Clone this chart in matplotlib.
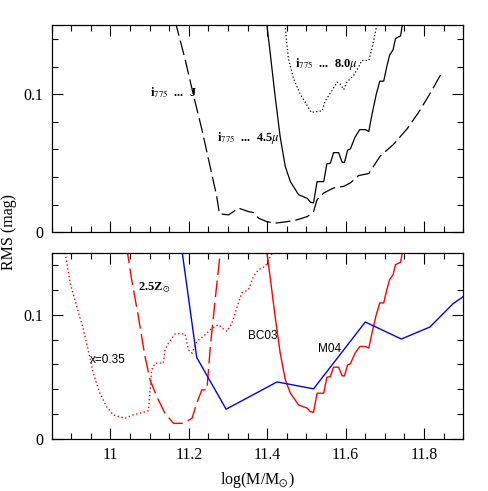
import matplotlib
matplotlib.use("Agg")
import matplotlib.pyplot as plt
from matplotlib.ticker import MultipleLocator, FuncFormatter

plt.rcParams['font.family'] = ['Liberation Serif', 'DejaVu Serif']
plt.rcParams['mathtext.fontset'] = 'stix'

# i775 - J (dashed, top panel)
j_logm = [11.165, 11.190, 11.212, 11.233, 11.254, 11.271, 11.278, 11.301, 11.327, 11.352,
          11.365, 11.378, 11.399, 11.420, 11.450, 11.476, 11.502, 11.514, 11.518, 11.527,
          11.544, 11.569, 11.595, 11.612, 11.633, 11.659, 11.688, 11.722, 11.756, 11.786,
          11.812, 11.846]
j_rms = [0.153, 0.1258, 0.099, 0.0747, 0.0479, 0.026, 0.0134, 0.0126, 0.0175, 0.0150,
         0.0143, 0.0102, 0.0077, 0.0066, 0.0077, 0.0090, 0.0114, 0.0139, 0.015, 0.0236,
         0.0285, 0.0321, 0.0333, 0.0358, 0.0411, 0.0426, 0.0552, 0.0637, 0.0747, 0.0869,
         0.099, 0.116]

# i775 - 4.5mu (solid, top) == BC03 (red solid, bottom)
bc03_logm = [11.397, 11.407, 11.420, 11.433, 11.446, 11.459, 11.480, 11.502, 11.510, 11.518,
             11.527, 11.544, 11.552, 11.561, 11.569, 11.582, 11.591, 11.597, 11.605, 11.612,
             11.624, 11.636, 11.650, 11.659, 11.667, 11.678, 11.687, 11.697, 11.705, 11.712,
             11.721, 11.727, 11.740, 11.746]
bc03_rms = [0.155, 0.131, 0.0986, 0.069, 0.0475, 0.0367, 0.0272, 0.0246, 0.0218, 0.0213,
            0.0367, 0.0367, 0.0496, 0.0501, 0.0577, 0.0577, 0.0507, 0.0507, 0.0596, 0.0604,
            0.0690, 0.0744, 0.0744, 0.0731, 0.0852, 0.1000, 0.1095, 0.1095, 0.1202, 0.1283,
            0.1323, 0.1404, 0.1423, 0.1525]

# i775 - 8.0mu (dotted, top)
ch4_logm = [11.444, 11.454, 11.467, 11.484, 11.502, 11.512, 11.540, 11.548, 11.565, 11.578,
            11.586, 11.595, 11.603, 11.620, 11.633, 11.641, 11.659, 11.667, 11.676, 11.681]
ch4_rms = [0.153, 0.1258, 0.1112, 0.1002, 0.0917, 0.0869, 0.088, 0.0953, 0.1026, 0.1088,
           0.1075, 0.1034, 0.1088, 0.1136, 0.1197, 0.1245, 0.1245, 0.1331, 0.1453, 0.153]

# x=0.35 (red dotted, bottom)
x035_logm = [10.883, 10.897, 10.914, 10.931, 10.943, 10.956, 10.973, 10.990, 11.007, 11.037,
             11.058, 11.080, 11.097, 11.101, 11.105, 11.114, 11.135, 11.139, 11.148, 11.165,
             11.190, 11.199, 11.208, 11.220, 11.237, 11.259, 11.276, 11.288, 11.297, 11.310,
             11.322, 11.335, 11.352, 11.365, 11.378, 11.395, 11.408, 11.417]
x035_rms = [0.153, 0.1256, 0.1067, 0.0879, 0.0717, 0.0529, 0.0367, 0.0259, 0.0192, 0.0165,
            0.0192, 0.0210, 0.0226, 0.0394, 0.0555, 0.0610, 0.0610, 0.0717, 0.0771, 0.0846,
            0.0846, 0.0717, 0.0690, 0.0784, 0.0825, 0.0892, 0.0919, 0.0884, 0.0865, 0.0933,
            0.1054, 0.1175, 0.1202, 0.1310, 0.1364, 0.1390, 0.1471, 0.152]

# 2.5 Zsun (red dashed, bottom)
z25_logm = [11.041, 11.054, 11.071, 11.088, 11.101, 11.118, 11.139, 11.161, 11.186, 11.208,
            11.220, 11.233, 11.246, 11.254, 11.267, 11.281]
z25_rms = [0.155, 0.1283, 0.0986, 0.0663, 0.0475, 0.0340, 0.0205, 0.0124, 0.0124, 0.0165,
           0.0286, 0.0394, 0.0394, 0.0717, 0.1121, 0.153]

# M04 (blue solid, bottom)
m04_logm = [11.17, 11.220, 11.295, 11.425, 11.518, 11.650, 11.742, 11.815, 11.874, 11.901]
m04_rms = [0.180, 0.0655, 0.0238, 0.0458, 0.0402, 0.0941, 0.0804, 0.0901, 0.1089, 0.1148]

fig = plt.figure(figsize=(4.89, 4.91), dpi=100)
ax1 = fig.add_axes([0.1057, 0.5269, 0.8417, 0.4216])
ax2 = fig.add_axes([0.1057, 0.1065, 0.8417, 0.3788])

fmt = FuncFormatter(lambda v, p: '0' if abs(v) < 1e-9 else f'{v:.10g}')
for ax in (ax1, ax2):
    ax.set_xlim(10.85, 11.9)
    ax.set_ylim(0, 0.15)
    ax.xaxis.set_major_locator(MultipleLocator(0.2))
    ax.xaxis.set_minor_locator(MultipleLocator(0.05))
    ax.yaxis.set_major_locator(MultipleLocator(0.1))
    ax.yaxis.set_minor_locator(MultipleLocator(0.02))
    ax.tick_params(which='both', direction='in', top=True, right=True, width=0.8,
                   labelsize=11.5, pad=6)
    ax.tick_params(which='major', length=8)
    ax.tick_params(which='minor', length=4.5)
    ax.xaxis.set_major_formatter(fmt)
    ax.yaxis.set_major_formatter(fmt)
    for s in ax.spines.values():
        s.set_linewidth(0.9)

ax1.tick_params(labelbottom=False)

dash = (0, (12, 4))
dot = (0, (1, 1.8))
ax1.plot(j_logm, j_rms, color='black', lw=0.9, linestyle=dash)
ax1.plot(bc03_logm, bc03_rms, color='black', lw=0.9)
ax1.plot(ch4_logm, ch4_rms, color='black', lw=0.9, linestyle=dot)

lab = dict(fontsize=9, fontweight='bold', va='center', ha='left')
ax1.text(11.101, 0.1015, r'i$_{775}$  ...  J', **lab)
ax1.text(11.271, 0.0686, r'i$_{775}$  ...  4.5$\mu$', **lab)
ax1.text(11.471, 0.122, r'i$_{775}$  ...  8.0$\mu$', **lab)

ax2.plot(x035_logm, x035_rms, color='red', lw=1.0, linestyle=dot)
ax2.plot(z25_logm, z25_rms, color='red', lw=1.0, linestyle=dash)
ax2.plot(bc03_logm, bc03_rms, color='red', lw=1.0)
ax2.plot(m04_logm, m04_rms, color='blue', lw=1.0)

sans = dict(fontsize=8.5, family='Liberation Sans', va='center', ha='left')
ax2.text(10.948, 0.0636, 'x=0.35', **sans)
ax2.text(11.352, 0.083, 'BC03', **sans)
ax2.text(11.530, 0.0725, 'M04', **sans)
ax2.text(11.071, 0.1218, r'2.5Z$_{\odot}$', fontsize=9, fontweight='bold', va='center', ha='left')

ax2.set_xlabel(r'log(M/M$_{\odot}$)', fontsize=11.5, labelpad=5)
fig.text(9 / 489, 1 - 232 / 491, 'RMS (mag)', rotation=90, fontsize=11.5,
         ha='center', va='center')

fig.savefig('out.png', dpi=100)
